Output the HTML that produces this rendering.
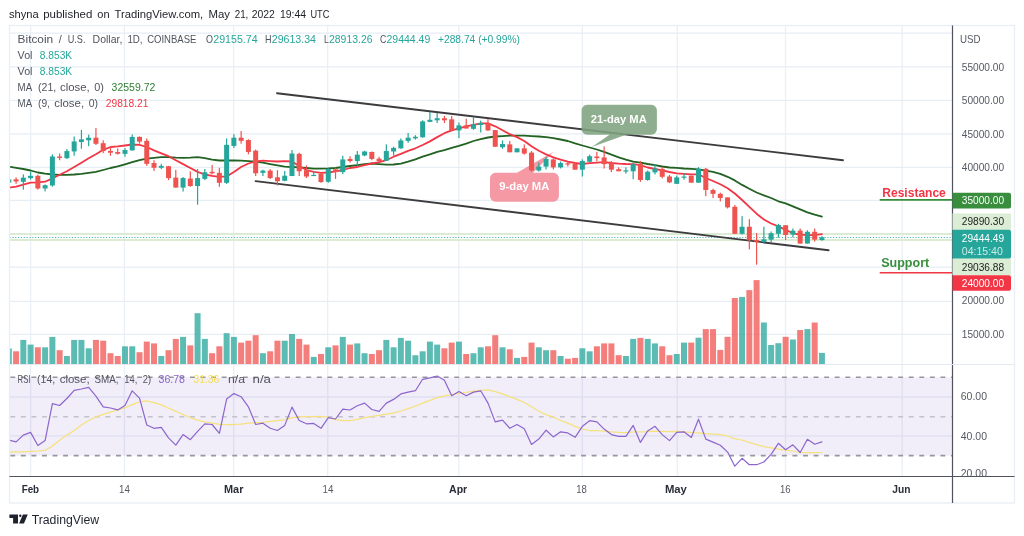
<!DOCTYPE html>
<html><head><meta charset="utf-8"><title>BTCUSD chart</title>
<style>html,body{margin:0;padding:0;background:#fff}svg{display:block}</style></head>
<body>
<svg width="1024" height="536" viewBox="0 0 1024 536" font-family="'Liberation Sans', sans-serif">
<rect width="1024" height="536" fill="#fff"/>
<defs><clipPath id="cm"><rect x="9.5" y="25.5" width="943.0" height="339.0"/></clipPath><clipPath id="cr"><rect x="9.5" y="364.5" width="943.0" height="112.0"/></clipPath></defs>
<line x1="30.6" y1="25.5" x2="30.6" y2="476.5" stroke="#eaf0f6" stroke-width="1.3"/>
<line x1="124.4" y1="25.5" x2="124.4" y2="476.5" stroke="#eaf0f6" stroke-width="1.3"/>
<line x1="233.7" y1="25.5" x2="233.7" y2="476.5" stroke="#eaf0f6" stroke-width="1.3"/>
<line x1="327.7" y1="25.5" x2="327.7" y2="476.5" stroke="#eaf0f6" stroke-width="1.3"/>
<line x1="458.8" y1="25.5" x2="458.8" y2="476.5" stroke="#eaf0f6" stroke-width="1.3"/>
<line x1="582.3" y1="25.5" x2="582.3" y2="476.5" stroke="#eaf0f6" stroke-width="1.3"/>
<line x1="677.3" y1="25.5" x2="677.3" y2="476.5" stroke="#eaf0f6" stroke-width="1.3"/>
<line x1="785.5" y1="25.5" x2="785.5" y2="476.5" stroke="#eaf0f6" stroke-width="1.3"/>
<line x1="902.2" y1="25.5" x2="902.2" y2="476.5" stroke="#eaf0f6" stroke-width="1.3"/>
<line x1="9.5" y1="33.2" x2="952.5" y2="33.2" stroke="#e6eef5" stroke-width="1.3"/>
<line x1="9.5" y1="66.8" x2="952.5" y2="66.8" stroke="#e6eef5" stroke-width="1.3"/>
<line x1="9.5" y1="100.3" x2="952.5" y2="100.3" stroke="#e6eef5" stroke-width="1.3"/>
<line x1="9.5" y1="133.8" x2="952.5" y2="133.8" stroke="#e6eef5" stroke-width="1.3"/>
<line x1="9.5" y1="167.3" x2="952.5" y2="167.3" stroke="#e6eef5" stroke-width="1.3"/>
<line x1="9.5" y1="200.4" x2="952.5" y2="200.4" stroke="#e6eef5" stroke-width="1.3"/>
<line x1="9.5" y1="233.9" x2="952.5" y2="233.9" stroke="#e6eef5" stroke-width="1.3"/>
<line x1="9.5" y1="267.2" x2="952.5" y2="267.2" stroke="#e6eef5" stroke-width="1.3"/>
<line x1="9.5" y1="301.3" x2="952.5" y2="301.3" stroke="#e6eef5" stroke-width="1.3"/>
<line x1="9.5" y1="334.3" x2="952.5" y2="334.3" stroke="#e6eef5" stroke-width="1.3"/>
<line x1="9.5" y1="397" x2="952.5" y2="397" stroke="#ebf1f7" stroke-width="1.3"/>
<line x1="9.5" y1="435.8" x2="952.5" y2="435.8" stroke="#ebf1f7" stroke-width="1.3"/>
<rect x="9.5" y="377.3" width="943.0" height="78.3" fill="#7e57c2" fill-opacity="0.105"/>
<g clip-path="url(#cm)">
<rect x="5.82" y="348.50" width="6" height="15.70" fill="#26a69a" fill-opacity="0.75"/>
<rect x="13.08" y="351.30" width="6" height="12.90" fill="#ef5350" fill-opacity="0.75"/>
<rect x="20.34" y="339.90" width="6" height="24.30" fill="#26a69a" fill-opacity="0.75"/>
<rect x="27.60" y="344.60" width="6" height="19.60" fill="#26a69a" fill-opacity="0.75"/>
<rect x="34.86" y="347.30" width="6" height="16.90" fill="#ef5350" fill-opacity="0.75"/>
<rect x="42.12" y="347.30" width="6" height="16.90" fill="#26a69a" fill-opacity="0.75"/>
<rect x="49.38" y="336.90" width="6" height="27.30" fill="#26a69a" fill-opacity="0.75"/>
<rect x="56.64" y="350.20" width="6" height="14.00" fill="#ef5350" fill-opacity="0.75"/>
<rect x="63.90" y="356.00" width="6" height="8.20" fill="#26a69a" fill-opacity="0.75"/>
<rect x="71.16" y="339.90" width="6" height="24.30" fill="#26a69a" fill-opacity="0.75"/>
<rect x="78.42" y="339.90" width="6" height="24.30" fill="#26a69a" fill-opacity="0.75"/>
<rect x="85.68" y="348.30" width="6" height="15.90" fill="#26a69a" fill-opacity="0.75"/>
<rect x="92.94" y="339.90" width="6" height="24.30" fill="#ef5350" fill-opacity="0.75"/>
<rect x="100.20" y="340.70" width="6" height="23.50" fill="#ef5350" fill-opacity="0.75"/>
<rect x="107.46" y="353.20" width="6" height="11.00" fill="#ef5350" fill-opacity="0.75"/>
<rect x="114.72" y="356.00" width="6" height="8.20" fill="#ef5350" fill-opacity="0.75"/>
<rect x="121.98" y="346.30" width="6" height="17.90" fill="#26a69a" fill-opacity="0.75"/>
<rect x="129.24" y="346.30" width="6" height="17.90" fill="#26a69a" fill-opacity="0.75"/>
<rect x="136.50" y="352.20" width="6" height="12.00" fill="#ef5350" fill-opacity="0.75"/>
<rect x="143.76" y="341.60" width="6" height="22.60" fill="#ef5350" fill-opacity="0.75"/>
<rect x="151.02" y="343.40" width="6" height="20.80" fill="#ef5350" fill-opacity="0.75"/>
<rect x="158.28" y="356.00" width="6" height="8.20" fill="#26a69a" fill-opacity="0.75"/>
<rect x="165.54" y="350.20" width="6" height="14.00" fill="#ef5350" fill-opacity="0.75"/>
<rect x="172.80" y="338.90" width="6" height="25.30" fill="#ef5350" fill-opacity="0.75"/>
<rect x="180.06" y="336.90" width="6" height="27.30" fill="#26a69a" fill-opacity="0.75"/>
<rect x="187.32" y="345.40" width="6" height="18.80" fill="#ef5350" fill-opacity="0.75"/>
<rect x="194.58" y="313.20" width="6" height="51.00" fill="#26a69a" fill-opacity="0.75"/>
<rect x="201.84" y="338.90" width="6" height="25.30" fill="#26a69a" fill-opacity="0.75"/>
<rect x="209.10" y="353.20" width="6" height="11.00" fill="#ef5350" fill-opacity="0.75"/>
<rect x="216.36" y="346.30" width="6" height="17.90" fill="#ef5350" fill-opacity="0.75"/>
<rect x="223.62" y="333.20" width="6" height="31.00" fill="#26a69a" fill-opacity="0.75"/>
<rect x="230.88" y="336.90" width="6" height="27.30" fill="#26a69a" fill-opacity="0.75"/>
<rect x="238.14" y="342.60" width="6" height="21.60" fill="#ef5350" fill-opacity="0.75"/>
<rect x="245.40" y="340.70" width="6" height="23.50" fill="#ef5350" fill-opacity="0.75"/>
<rect x="252.66" y="335.20" width="6" height="29.00" fill="#ef5350" fill-opacity="0.75"/>
<rect x="259.92" y="353.20" width="6" height="11.00" fill="#26a69a" fill-opacity="0.75"/>
<rect x="267.18" y="351.30" width="6" height="12.90" fill="#ef5350" fill-opacity="0.75"/>
<rect x="274.44" y="340.70" width="6" height="23.50" fill="#ef5350" fill-opacity="0.75"/>
<rect x="281.70" y="340.70" width="6" height="23.50" fill="#26a69a" fill-opacity="0.75"/>
<rect x="288.96" y="334.00" width="6" height="30.20" fill="#26a69a" fill-opacity="0.75"/>
<rect x="296.22" y="338.90" width="6" height="25.30" fill="#ef5350" fill-opacity="0.75"/>
<rect x="303.48" y="344.60" width="6" height="19.60" fill="#ef5350" fill-opacity="0.75"/>
<rect x="310.74" y="356.90" width="6" height="7.30" fill="#26a69a" fill-opacity="0.75"/>
<rect x="318.00" y="354.00" width="6" height="10.20" fill="#ef5350" fill-opacity="0.75"/>
<rect x="325.26" y="347.30" width="6" height="16.90" fill="#26a69a" fill-opacity="0.75"/>
<rect x="332.52" y="345.40" width="6" height="18.80" fill="#ef5350" fill-opacity="0.75"/>
<rect x="339.78" y="336.90" width="6" height="27.30" fill="#26a69a" fill-opacity="0.75"/>
<rect x="347.04" y="344.60" width="6" height="19.60" fill="#ef5350" fill-opacity="0.75"/>
<rect x="354.30" y="343.40" width="6" height="20.80" fill="#26a69a" fill-opacity="0.75"/>
<rect x="361.56" y="353.20" width="6" height="11.00" fill="#26a69a" fill-opacity="0.75"/>
<rect x="368.82" y="354.00" width="6" height="10.20" fill="#ef5350" fill-opacity="0.75"/>
<rect x="376.08" y="350.20" width="6" height="14.00" fill="#ef5350" fill-opacity="0.75"/>
<rect x="383.34" y="339.90" width="6" height="24.30" fill="#26a69a" fill-opacity="0.75"/>
<rect x="390.60" y="347.30" width="6" height="16.90" fill="#26a69a" fill-opacity="0.75"/>
<rect x="397.86" y="337.90" width="6" height="26.30" fill="#26a69a" fill-opacity="0.75"/>
<rect x="405.12" y="340.70" width="6" height="23.50" fill="#26a69a" fill-opacity="0.75"/>
<rect x="412.38" y="355.20" width="6" height="9.00" fill="#26a69a" fill-opacity="0.75"/>
<rect x="419.64" y="351.30" width="6" height="12.90" fill="#26a69a" fill-opacity="0.75"/>
<rect x="426.90" y="341.60" width="6" height="22.60" fill="#26a69a" fill-opacity="0.75"/>
<rect x="434.16" y="344.60" width="6" height="19.60" fill="#26a69a" fill-opacity="0.75"/>
<rect x="441.42" y="348.30" width="6" height="15.90" fill="#ef5350" fill-opacity="0.75"/>
<rect x="448.68" y="342.60" width="6" height="21.60" fill="#ef5350" fill-opacity="0.75"/>
<rect x="455.94" y="341.60" width="6" height="22.60" fill="#26a69a" fill-opacity="0.75"/>
<rect x="463.20" y="354.00" width="6" height="10.20" fill="#ef5350" fill-opacity="0.75"/>
<rect x="470.46" y="353.20" width="6" height="11.00" fill="#26a69a" fill-opacity="0.75"/>
<rect x="477.72" y="347.30" width="6" height="16.90" fill="#26a69a" fill-opacity="0.75"/>
<rect x="484.98" y="346.30" width="6" height="17.90" fill="#ef5350" fill-opacity="0.75"/>
<rect x="492.24" y="335.20" width="6" height="29.00" fill="#ef5350" fill-opacity="0.75"/>
<rect x="499.50" y="347.30" width="6" height="16.90" fill="#26a69a" fill-opacity="0.75"/>
<rect x="506.76" y="349.30" width="6" height="14.90" fill="#ef5350" fill-opacity="0.75"/>
<rect x="514.02" y="357.90" width="6" height="6.30" fill="#26a69a" fill-opacity="0.75"/>
<rect x="521.28" y="356.90" width="6" height="7.30" fill="#ef5350" fill-opacity="0.75"/>
<rect x="528.54" y="342.60" width="6" height="21.60" fill="#ef5350" fill-opacity="0.75"/>
<rect x="535.80" y="347.30" width="6" height="16.90" fill="#26a69a" fill-opacity="0.75"/>
<rect x="543.06" y="350.20" width="6" height="14.00" fill="#26a69a" fill-opacity="0.75"/>
<rect x="550.32" y="350.20" width="6" height="14.00" fill="#ef5350" fill-opacity="0.75"/>
<rect x="557.58" y="356.00" width="6" height="8.20" fill="#26a69a" fill-opacity="0.75"/>
<rect x="564.84" y="358.70" width="6" height="5.50" fill="#ef5350" fill-opacity="0.75"/>
<rect x="572.10" y="357.90" width="6" height="6.30" fill="#ef5350" fill-opacity="0.75"/>
<rect x="579.36" y="348.30" width="6" height="15.90" fill="#26a69a" fill-opacity="0.75"/>
<rect x="586.62" y="351.30" width="6" height="12.90" fill="#26a69a" fill-opacity="0.75"/>
<rect x="593.88" y="346.30" width="6" height="17.90" fill="#ef5350" fill-opacity="0.75"/>
<rect x="601.14" y="343.40" width="6" height="20.80" fill="#ef5350" fill-opacity="0.75"/>
<rect x="608.40" y="343.40" width="6" height="20.80" fill="#ef5350" fill-opacity="0.75"/>
<rect x="615.66" y="355.20" width="6" height="9.00" fill="#ef5350" fill-opacity="0.75"/>
<rect x="622.92" y="356.00" width="6" height="8.20" fill="#26a69a" fill-opacity="0.75"/>
<rect x="630.18" y="338.90" width="6" height="25.30" fill="#26a69a" fill-opacity="0.75"/>
<rect x="637.44" y="337.90" width="6" height="26.30" fill="#ef5350" fill-opacity="0.75"/>
<rect x="644.70" y="338.90" width="6" height="25.30" fill="#26a69a" fill-opacity="0.75"/>
<rect x="651.96" y="343.40" width="6" height="20.80" fill="#26a69a" fill-opacity="0.75"/>
<rect x="659.22" y="346.30" width="6" height="17.90" fill="#ef5350" fill-opacity="0.75"/>
<rect x="666.48" y="355.20" width="6" height="9.00" fill="#ef5350" fill-opacity="0.75"/>
<rect x="673.74" y="354.00" width="6" height="10.20" fill="#26a69a" fill-opacity="0.75"/>
<rect x="681.00" y="342.60" width="6" height="21.60" fill="#26a69a" fill-opacity="0.75"/>
<rect x="688.26" y="342.60" width="6" height="21.60" fill="#ef5350" fill-opacity="0.75"/>
<rect x="695.52" y="337.70" width="6" height="26.50" fill="#26a69a" fill-opacity="0.75"/>
<rect x="702.78" y="329.10" width="6" height="35.10" fill="#ef5350" fill-opacity="0.75"/>
<rect x="710.04" y="329.10" width="6" height="35.10" fill="#ef5350" fill-opacity="0.75"/>
<rect x="717.30" y="349.90" width="6" height="14.30" fill="#ef5350" fill-opacity="0.75"/>
<rect x="724.56" y="336.80" width="6" height="27.40" fill="#ef5350" fill-opacity="0.75"/>
<rect x="731.82" y="298.00" width="6" height="66.20" fill="#ef5350" fill-opacity="0.75"/>
<rect x="739.08" y="296.90" width="6" height="67.30" fill="#26a69a" fill-opacity="0.75"/>
<rect x="746.34" y="290.10" width="6" height="74.10" fill="#ef5350" fill-opacity="0.75"/>
<rect x="753.60" y="280.10" width="6" height="84.10" fill="#ef5350" fill-opacity="0.75"/>
<rect x="760.86" y="322.50" width="6" height="41.70" fill="#26a69a" fill-opacity="0.75"/>
<rect x="768.12" y="345.00" width="6" height="19.20" fill="#26a69a" fill-opacity="0.75"/>
<rect x="775.38" y="343.20" width="6" height="21.00" fill="#26a69a" fill-opacity="0.75"/>
<rect x="782.64" y="336.80" width="6" height="27.40" fill="#ef5350" fill-opacity="0.75"/>
<rect x="789.90" y="339.50" width="6" height="24.70" fill="#26a69a" fill-opacity="0.75"/>
<rect x="797.16" y="330.00" width="6" height="34.20" fill="#ef5350" fill-opacity="0.75"/>
<rect x="804.42" y="329.10" width="6" height="35.10" fill="#26a69a" fill-opacity="0.75"/>
<rect x="811.68" y="322.50" width="6" height="41.70" fill="#ef5350" fill-opacity="0.75"/>
<rect x="818.94" y="352.90" width="6" height="11.30" fill="#26a69a" fill-opacity="0.75"/>
</g>
<line x1="9.5" y1="234.1" x2="952.5" y2="234.1" stroke="#dcebd4" stroke-width="2"/>
<line x1="9.5" y1="240" x2="952.5" y2="240" stroke="#dcebd4" stroke-width="2"/>
<line x1="9.5" y1="237.5" x2="952.5" y2="237.5" stroke="#26a69a" stroke-opacity="0.85" stroke-width="1.1" stroke-dasharray="1.1 1.74"/>
<line x1="277" y1="93.2" x2="843" y2="160.2" stroke="#3c3c3e" stroke-width="1.9" stroke-linecap="round"/>
<line x1="255.6" y1="181.1" x2="828.6" y2="250.2" stroke="#3c3c3e" stroke-width="1.9" stroke-linecap="round"/>
<path d="M587.1,104.8 H651.4 a5.5,5.5 0 0 1 5.5,5.5 V129.2 a5.5,5.5 0 0 1 -5.5,5.5 H626 L591.8,146.9 L609.5,134.7 H587.1 a5.5,5.5 0 0 1 -5.5,-5.5 V110.3 a5.5,5.5 0 0 1 5.5,-5.5 Z" fill="#80a380" fill-opacity="0.88"/>
<path d="M495.5,172.8 H517 L553.6,151.8 L533,172.8 H553.4 a5.5,5.5 0 0 1 5.5,5.5 V196.2 a5.5,5.5 0 0 1 -5.5,5.5 H495.5 a5.5,5.5 0 0 1 -5.5,-5.5 V178.3 a5.5,5.5 0 0 1 5.5,-5.5 Z" fill="#f48c98" fill-opacity="0.88"/>
<polyline points="8.8,166.6 16.1,167.8 23.3,169.0 30.6,170.5 37.9,172.5 45.1,173.7 52.4,174.5 59.6,174.8 66.9,174.8 74.2,174.5 81.4,173.9 88.7,172.9 95.9,171.9 103.2,170.0 110.5,168.0 117.7,166.4 125.0,164.3 132.2,162.1 139.5,160.2 146.8,158.6 154.0,157.8 161.3,157.2 168.5,157.2 175.8,157.6 183.1,157.8 190.3,157.6 197.6,157.2 204.8,158.2 212.1,159.6 219.4,160.5 226.6,160.5 233.9,160.5 241.1,160.7 248.4,161.1 255.7,161.7 262.9,162.7 270.2,164.1 277.4,165.4 284.7,166.6 292.0,167.0 299.2,167.4 306.5,168.0 313.7,168.6 321.0,168.6 328.3,168.4 335.5,168.0 342.8,167.0 350.0,166.0 357.3,165.1 364.6,164.1 371.8,163.5 379.1,164.1 386.3,164.7 393.6,164.5 400.9,163.6 408.1,161.6 415.4,159.3 422.6,156.7 429.9,154.4 437.2,151.8 444.4,150.2 451.7,147.9 458.9,145.9 466.2,143.6 473.5,141.0 480.7,139.1 488.0,137.5 495.2,136.5 502.5,136.1 509.8,135.7 517.0,135.7 524.3,135.7 531.5,136.1 538.8,136.5 546.1,137.1 553.3,138.1 560.6,139.5 567.8,141.0 575.1,143.4 582.4,145.5 589.6,147.5 596.9,149.5 604.1,151.8 611.4,154.7 618.7,157.3 625.9,159.6 633.2,161.6 640.4,162.6 647.7,164.0 655.0,165.1 662.2,166.5 669.5,167.5 676.7,167.9 684.0,168.5 691.3,168.8 698.5,169.4 705.8,170.6 713.0,171.9 720.3,173.9 727.6,176.8 734.8,180.4 742.1,184.9 749.3,188.8 756.6,192.5 763.9,195.4 771.1,198.0 778.4,201.3 785.6,203.3 792.9,206.4 800.2,209.4 807.4,212.3 814.7,214.6 821.9,216.6" fill="none" stroke="#226222" stroke-width="1.8" stroke-linejoin="round" stroke-linecap="round" clip-path="url(#cm)"/>
<polyline points="8.8,187.6 16.1,186.6 23.3,184.6 30.6,182.7 37.9,182.3 45.1,181.7 52.4,178.4 59.6,174.8 66.9,171.3 74.2,167.0 81.4,162.7 88.7,158.2 95.9,154.3 103.2,149.8 110.5,147.0 117.7,146.4 125.0,145.5 132.2,144.5 139.5,144.9 146.8,147.0 154.0,150.4 161.3,153.3 168.5,156.2 175.8,160.2 183.1,164.1 190.3,168.0 197.6,171.9 204.8,174.5 212.1,175.8 219.4,176.8 226.6,176.4 233.9,171.9 241.1,167.0 248.4,163.5 255.7,161.5 262.9,160.7 270.2,161.1 277.4,161.5 284.7,161.1 292.0,161.5 299.2,166.0 306.5,170.0 313.7,171.9 321.0,172.9 328.3,172.5 335.5,171.3 342.8,170.0 350.0,168.0 357.3,167.0 364.6,165.1 371.8,163.5 379.1,162.1 386.3,160.2 393.6,156.7 400.9,153.8 408.1,150.8 415.4,148.3 422.6,145.0 429.9,141.4 437.2,137.1 444.4,133.2 451.7,130.3 458.9,128.3 466.2,126.3 473.5,124.8 480.7,123.4 488.0,123.4 495.2,126.3 502.5,130.3 509.8,134.2 517.0,137.1 524.3,141.0 531.5,146.3 538.8,150.8 546.1,154.4 553.3,157.3 560.6,159.6 567.8,161.6 575.1,163.0 582.4,164.0 589.6,163.2 596.9,162.6 604.1,162.2 611.4,163.0 618.7,163.6 625.9,164.0 633.2,164.1 640.4,165.1 647.7,167.5 655.0,169.0 662.2,170.4 669.5,172.0 676.7,173.4 684.0,173.9 691.3,174.3 698.5,174.3 705.8,178.0 713.0,181.0 720.3,184.3 727.6,188.2 734.8,193.5 742.1,200.0 749.3,206.8 756.6,213.7 763.9,219.5 771.1,223.5 778.4,226.4 785.6,229.9 792.9,233.3 800.2,234.6 807.4,235.2 814.7,235.2 821.9,234.2" fill="none" stroke="#f23645" stroke-width="1.8" stroke-linejoin="round" stroke-linecap="round" clip-path="url(#cm)"/>
<g clip-path="url(#cm)">
<rect x="8.22" y="179.34" width="1.2" height="3.29" fill="#26a69a"/>
<rect x="6.32" y="179.34" width="5" height="3.29" fill="#26a69a"/>
<rect x="15.48" y="177.34" width="1.2" height="6.46" fill="#ef5350"/>
<rect x="13.58" y="179.34" width="5" height="2.12" fill="#ef5350"/>
<rect x="22.74" y="174.40" width="1.2" height="15.28" fill="#26a69a"/>
<rect x="20.84" y="177.69" width="5" height="4.11" fill="#26a69a"/>
<rect x="30.00" y="172.05" width="1.2" height="7.64" fill="#26a69a"/>
<rect x="28.10" y="175.81" width="5" height="2.35" fill="#26a69a"/>
<rect x="37.26" y="174.64" width="1.2" height="15.04" fill="#ef5350"/>
<rect x="35.36" y="175.81" width="5" height="12.69" fill="#ef5350"/>
<rect x="44.52" y="184.39" width="1.2" height="7.05" fill="#26a69a"/>
<rect x="42.62" y="185.21" width="5" height="3.29" fill="#26a69a"/>
<rect x="51.78" y="154.38" width="1.2" height="32.31" fill="#26a69a"/>
<rect x="49.88" y="156.49" width="5" height="29.02" fill="#26a69a"/>
<rect x="59.04" y="153.55" width="1.2" height="6.70" fill="#ef5350"/>
<rect x="57.14" y="156.49" width="5" height="1.41" fill="#ef5350"/>
<rect x="66.30" y="149.09" width="1.2" height="9.99" fill="#26a69a"/>
<rect x="64.40" y="151.09" width="5" height="7.05" fill="#26a69a"/>
<rect x="73.56" y="136.52" width="1.2" height="19.27" fill="#26a69a"/>
<rect x="71.66" y="141.45" width="5" height="9.99" fill="#26a69a"/>
<rect x="80.82" y="129.94" width="1.2" height="18.80" fill="#26a69a"/>
<rect x="78.92" y="139.34" width="5" height="2.70" fill="#26a69a"/>
<rect x="88.08" y="134.64" width="1.2" height="11.52" fill="#26a69a"/>
<rect x="86.18" y="137.69" width="5" height="2.59" fill="#26a69a"/>
<rect x="95.34" y="127.94" width="1.2" height="17.04" fill="#ef5350"/>
<rect x="93.44" y="137.69" width="5" height="6.11" fill="#ef5350"/>
<rect x="102.60" y="140.28" width="1.2" height="12.93" fill="#ef5350"/>
<rect x="100.70" y="143.21" width="5" height="7.87" fill="#ef5350"/>
<rect x="109.86" y="146.15" width="1.2" height="9.64" fill="#ef5350"/>
<rect x="107.96" y="150.85" width="5" height="1.88" fill="#ef5350"/>
<rect x="117.12" y="148.50" width="1.2" height="6.11" fill="#ef5350"/>
<rect x="115.22" y="152.03" width="5" height="1.76" fill="#ef5350"/>
<rect x="124.38" y="147.98" width="1.2" height="8.72" fill="#26a69a"/>
<rect x="122.48" y="150.04" width="5" height="3.80" fill="#26a69a"/>
<rect x="131.64" y="134.51" width="1.2" height="16.16" fill="#26a69a"/>
<rect x="129.74" y="136.89" width="5" height="13.47" fill="#26a69a"/>
<rect x="138.90" y="136.41" width="1.2" height="7.29" fill="#ef5350"/>
<rect x="137.00" y="136.89" width="5" height="4.75" fill="#ef5350"/>
<rect x="146.16" y="138.47" width="1.2" height="27.42" fill="#ef5350"/>
<rect x="144.26" y="140.85" width="5" height="22.98" fill="#ef5350"/>
<rect x="153.42" y="160.18" width="1.2" height="10.78" fill="#ef5350"/>
<rect x="151.52" y="163.03" width="5" height="4.75" fill="#ef5350"/>
<rect x="160.68" y="163.83" width="1.2" height="5.23" fill="#26a69a"/>
<rect x="158.78" y="165.89" width="5" height="1.90" fill="#26a69a"/>
<rect x="167.94" y="165.89" width="1.2" height="14.26" fill="#ef5350"/>
<rect x="166.04" y="166.20" width="5" height="11.89" fill="#ef5350"/>
<rect x="175.20" y="169.85" width="1.2" height="17.75" fill="#ef5350"/>
<rect x="173.30" y="177.61" width="5" height="9.98" fill="#ef5350"/>
<rect x="182.46" y="176.98" width="1.2" height="14.58" fill="#26a69a"/>
<rect x="180.56" y="178.09" width="5" height="9.51" fill="#26a69a"/>
<rect x="189.72" y="171.43" width="1.2" height="15.37" fill="#ef5350"/>
<rect x="187.82" y="178.57" width="5" height="7.45" fill="#ef5350"/>
<rect x="196.98" y="169.06" width="1.2" height="35.66" fill="#26a69a"/>
<rect x="195.08" y="178.09" width="5" height="7.92" fill="#26a69a"/>
<rect x="204.24" y="169.06" width="1.2" height="11.09" fill="#26a69a"/>
<rect x="202.34" y="172.23" width="5" height="6.66" fill="#26a69a"/>
<rect x="211.50" y="164.94" width="1.2" height="9.51" fill="#ef5350"/>
<rect x="209.60" y="171.75" width="5" height="1.58" fill="#ef5350"/>
<rect x="218.76" y="167.79" width="1.2" height="19.02" fill="#ef5350"/>
<rect x="216.86" y="172.86" width="5" height="9.98" fill="#ef5350"/>
<rect x="226.02" y="138.47" width="1.2" height="45.48" fill="#26a69a"/>
<rect x="224.12" y="144.81" width="5" height="38.03" fill="#26a69a"/>
<rect x="233.28" y="134.19" width="1.2" height="13.79" fill="#26a69a"/>
<rect x="231.38" y="137.68" width="5" height="8.24" fill="#26a69a"/>
<rect x="240.54" y="131.02" width="1.2" height="12.68" fill="#ef5350"/>
<rect x="238.64" y="137.68" width="5" height="3.17" fill="#ef5350"/>
<rect x="247.80" y="139.26" width="1.2" height="15.06" fill="#ef5350"/>
<rect x="245.90" y="140.06" width="5" height="11.89" fill="#ef5350"/>
<rect x="255.06" y="149.56" width="1.2" height="26.47" fill="#ef5350"/>
<rect x="253.16" y="150.67" width="5" height="22.66" fill="#ef5350"/>
<rect x="262.32" y="169.69" width="1.2" height="6.34" fill="#26a69a"/>
<rect x="260.42" y="170.64" width="5" height="2.22" fill="#26a69a"/>
<rect x="269.58" y="169.06" width="1.2" height="9.83" fill="#ef5350"/>
<rect x="267.68" y="170.64" width="5" height="7.45" fill="#ef5350"/>
<rect x="276.84" y="170.17" width="1.2" height="15.37" fill="#ef5350"/>
<rect x="274.94" y="177.30" width="5" height="3.96" fill="#ef5350"/>
<rect x="284.10" y="170.96" width="1.2" height="10.30" fill="#26a69a"/>
<rect x="282.20" y="175.71" width="5" height="5.07" fill="#26a69a"/>
<rect x="291.36" y="150.04" width="1.2" height="25.99" fill="#26a69a"/>
<rect x="289.46" y="153.53" width="5" height="22.50" fill="#26a69a"/>
<rect x="298.62" y="152.73" width="1.2" height="23.30" fill="#ef5350"/>
<rect x="296.72" y="153.84" width="5" height="17.43" fill="#ef5350"/>
<rect x="305.88" y="165.41" width="1.2" height="12.68" fill="#ef5350"/>
<rect x="303.98" y="170.17" width="5" height="6.34" fill="#ef5350"/>
<rect x="313.14" y="170.96" width="1.2" height="5.07" fill="#26a69a"/>
<rect x="311.24" y="174.88" width="5" height="1.20" fill="#26a69a"/>
<rect x="320.40" y="172.54" width="1.2" height="10.30" fill="#ef5350"/>
<rect x="318.50" y="173.81" width="5" height="8.24" fill="#ef5350"/>
<rect x="327.66" y="168.11" width="1.2" height="14.74" fill="#26a69a"/>
<rect x="325.76" y="169.06" width="5" height="12.68" fill="#26a69a"/>
<rect x="334.92" y="167.79" width="1.2" height="11.09" fill="#ef5350"/>
<rect x="333.02" y="169.37" width="5" height="2.69" fill="#ef5350"/>
<rect x="342.18" y="155.78" width="1.2" height="18.38" fill="#26a69a"/>
<rect x="340.28" y="159.43" width="5" height="12.68" fill="#26a69a"/>
<rect x="349.44" y="156.26" width="1.2" height="6.34" fill="#ef5350"/>
<rect x="347.54" y="158.95" width="5" height="2.06" fill="#ef5350"/>
<rect x="356.70" y="151.03" width="1.2" height="14.74" fill="#26a69a"/>
<rect x="354.80" y="154.68" width="5" height="6.34" fill="#26a69a"/>
<rect x="363.96" y="150.71" width="1.2" height="5.55" fill="#26a69a"/>
<rect x="362.06" y="151.51" width="5" height="3.96" fill="#26a69a"/>
<rect x="371.22" y="151.51" width="1.2" height="8.72" fill="#ef5350"/>
<rect x="369.32" y="151.98" width="5" height="6.97" fill="#ef5350"/>
<rect x="378.48" y="156.74" width="1.2" height="5.39" fill="#ef5350"/>
<rect x="376.58" y="158.64" width="5" height="2.38" fill="#ef5350"/>
<rect x="385.74" y="144.37" width="1.2" height="16.64" fill="#26a69a"/>
<rect x="383.84" y="151.03" width="5" height="9.67" fill="#26a69a"/>
<rect x="393.00" y="146.75" width="1.2" height="8.72" fill="#26a69a"/>
<rect x="391.10" y="147.86" width="5" height="3.65" fill="#26a69a"/>
<rect x="400.26" y="138.51" width="1.2" height="10.30" fill="#26a69a"/>
<rect x="398.36" y="140.41" width="5" height="7.92" fill="#26a69a"/>
<rect x="407.52" y="132.96" width="1.2" height="9.83" fill="#26a69a"/>
<rect x="405.62" y="137.72" width="5" height="3.17" fill="#26a69a"/>
<rect x="414.78" y="135.18" width="1.2" height="4.44" fill="#26a69a"/>
<rect x="412.88" y="136.77" width="5" height="1.58" fill="#26a69a"/>
<rect x="422.04" y="120.29" width="1.2" height="17.43" fill="#26a69a"/>
<rect x="420.14" y="121.39" width="5" height="15.85" fill="#26a69a"/>
<rect x="429.30" y="111.89" width="1.2" height="10.30" fill="#26a69a"/>
<rect x="427.40" y="119.81" width="5" height="2.06" fill="#26a69a"/>
<rect x="436.56" y="113.00" width="1.2" height="9.98" fill="#26a69a"/>
<rect x="434.66" y="118.23" width="5" height="2.06" fill="#26a69a"/>
<rect x="443.82" y="115.85" width="1.2" height="7.13" fill="#ef5350"/>
<rect x="441.92" y="118.23" width="5" height="2.06" fill="#ef5350"/>
<rect x="451.08" y="115.85" width="1.2" height="15.53" fill="#ef5350"/>
<rect x="449.18" y="119.33" width="5" height="10.78" fill="#ef5350"/>
<rect x="458.34" y="122.50" width="1.2" height="15.53" fill="#26a69a"/>
<rect x="456.44" y="125.36" width="5" height="5.07" fill="#26a69a"/>
<rect x="465.60" y="118.70" width="1.2" height="9.83" fill="#ef5350"/>
<rect x="463.70" y="125.36" width="5" height="3.17" fill="#ef5350"/>
<rect x="472.86" y="116.64" width="1.2" height="13.15" fill="#26a69a"/>
<rect x="470.96" y="124.09" width="5" height="4.75" fill="#26a69a"/>
<rect x="480.12" y="120.60" width="1.2" height="11.89" fill="#26a69a"/>
<rect x="478.22" y="122.98" width="5" height="2.06" fill="#26a69a"/>
<rect x="487.38" y="119.02" width="1.2" height="11.89" fill="#ef5350"/>
<rect x="485.48" y="123.45" width="5" height="6.97" fill="#ef5350"/>
<rect x="494.64" y="130.11" width="1.2" height="16.64" fill="#ef5350"/>
<rect x="492.74" y="130.11" width="5" height="16.64" fill="#ef5350"/>
<rect x="501.90" y="140.41" width="1.2" height="8.40" fill="#26a69a"/>
<rect x="500.00" y="144.06" width="5" height="3.17" fill="#26a69a"/>
<rect x="509.16" y="140.89" width="1.2" height="11.41" fill="#ef5350"/>
<rect x="507.26" y="144.37" width="5" height="7.92" fill="#ef5350"/>
<rect x="516.42" y="148.34" width="1.2" height="3.96" fill="#26a69a"/>
<rect x="514.52" y="148.34" width="5" height="3.96" fill="#26a69a"/>
<rect x="523.68" y="144.37" width="1.2" height="10.30" fill="#ef5350"/>
<rect x="521.78" y="148.34" width="5" height="5.23" fill="#ef5350"/>
<rect x="530.94" y="151.03" width="1.2" height="20.60" fill="#ef5350"/>
<rect x="529.04" y="152.61" width="5" height="17.91" fill="#ef5350"/>
<rect x="538.20" y="162.60" width="1.2" height="9.03" fill="#26a69a"/>
<rect x="536.30" y="166.56" width="5" height="3.96" fill="#26a69a"/>
<rect x="545.46" y="156.74" width="1.2" height="12.68" fill="#26a69a"/>
<rect x="543.56" y="158.95" width="5" height="7.61" fill="#26a69a"/>
<rect x="552.72" y="158.32" width="1.2" height="11.09" fill="#ef5350"/>
<rect x="550.82" y="159.43" width="5" height="7.92" fill="#ef5350"/>
<rect x="559.98" y="161.49" width="1.2" height="6.97" fill="#26a69a"/>
<rect x="558.08" y="163.07" width="5" height="4.28" fill="#26a69a"/>
<rect x="567.24" y="162.23" width="1.2" height="4.28" fill="#ef5350"/>
<rect x="565.34" y="163.29" width="5" height="1.20" fill="#ef5350"/>
<rect x="574.50" y="162.54" width="1.2" height="7.13" fill="#ef5350"/>
<rect x="572.60" y="163.81" width="5" height="5.86" fill="#ef5350"/>
<rect x="581.76" y="159.37" width="1.2" height="17.12" fill="#26a69a"/>
<rect x="579.86" y="160.96" width="5" height="8.72" fill="#26a69a"/>
<rect x="589.02" y="154.62" width="1.2" height="7.92" fill="#26a69a"/>
<rect x="587.12" y="156.20" width="5" height="5.55" fill="#26a69a"/>
<rect x="596.28" y="151.77" width="1.2" height="9.51" fill="#ef5350"/>
<rect x="594.38" y="156.52" width="5" height="1.58" fill="#ef5350"/>
<rect x="603.54" y="146.38" width="1.2" height="22.19" fill="#ef5350"/>
<rect x="601.64" y="157.47" width="5" height="6.66" fill="#ef5350"/>
<rect x="610.80" y="160.96" width="1.2" height="11.09" fill="#ef5350"/>
<rect x="608.90" y="162.86" width="5" height="6.81" fill="#ef5350"/>
<rect x="618.06" y="167.30" width="1.2" height="3.96" fill="#ef5350"/>
<rect x="616.16" y="169.20" width="5" height="2.06" fill="#ef5350"/>
<rect x="625.32" y="167.30" width="1.2" height="6.34" fill="#26a69a"/>
<rect x="623.42" y="170.34" width="5" height="1.20" fill="#26a69a"/>
<rect x="632.58" y="162.86" width="1.2" height="16.32" fill="#26a69a"/>
<rect x="630.68" y="164.13" width="5" height="7.13" fill="#26a69a"/>
<rect x="639.84" y="160.96" width="1.2" height="20.92" fill="#ef5350"/>
<rect x="637.94" y="164.13" width="5" height="15.85" fill="#ef5350"/>
<rect x="647.10" y="170.47" width="1.2" height="10.30" fill="#26a69a"/>
<rect x="645.20" y="171.74" width="5" height="8.24" fill="#26a69a"/>
<rect x="654.36" y="164.13" width="1.2" height="10.30" fill="#26a69a"/>
<rect x="652.46" y="168.57" width="5" height="3.80" fill="#26a69a"/>
<rect x="661.62" y="166.98" width="1.2" height="11.41" fill="#ef5350"/>
<rect x="659.72" y="168.88" width="5" height="7.92" fill="#ef5350"/>
<rect x="668.88" y="174.90" width="1.2" height="8.24" fill="#ef5350"/>
<rect x="666.98" y="176.49" width="5" height="5.86" fill="#ef5350"/>
<rect x="676.14" y="175.63" width="1.2" height="8.23" fill="#26a69a"/>
<rect x="674.24" y="177.39" width="5" height="6.46" fill="#26a69a"/>
<rect x="683.40" y="173.04" width="1.2" height="6.70" fill="#26a69a"/>
<rect x="681.50" y="176.55" width="5" height="1.20" fill="#26a69a"/>
<rect x="690.66" y="175.63" width="1.2" height="7.05" fill="#ef5350"/>
<rect x="688.76" y="175.63" width="5" height="7.05" fill="#ef5350"/>
<rect x="697.92" y="167.17" width="1.2" height="15.51" fill="#26a69a"/>
<rect x="696.02" y="168.81" width="5" height="13.87" fill="#26a69a"/>
<rect x="705.18" y="167.99" width="1.2" height="28.20" fill="#ef5350"/>
<rect x="703.28" y="168.81" width="5" height="21.15" fill="#ef5350"/>
<rect x="712.44" y="188.79" width="1.2" height="9.17" fill="#ef5350"/>
<rect x="710.54" y="189.96" width="5" height="3.88" fill="#ef5350"/>
<rect x="719.70" y="192.67" width="1.2" height="8.81" fill="#ef5350"/>
<rect x="717.80" y="193.84" width="5" height="4.11" fill="#ef5350"/>
<rect x="726.96" y="197.37" width="1.2" height="11.16" fill="#ef5350"/>
<rect x="725.06" y="197.37" width="5" height="9.99" fill="#ef5350"/>
<rect x="734.22" y="205.00" width="1.2" height="28.79" fill="#ef5350"/>
<rect x="732.32" y="206.76" width="5" height="27.03" fill="#ef5350"/>
<rect x="741.48" y="216.16" width="1.2" height="18.45" fill="#26a69a"/>
<rect x="739.58" y="226.74" width="5" height="7.05" fill="#26a69a"/>
<rect x="748.74" y="219.10" width="1.2" height="30.32" fill="#ef5350"/>
<rect x="746.84" y="226.74" width="5" height="13.51" fill="#ef5350"/>
<rect x="756.00" y="233.20" width="1.2" height="31.49" fill="#ef5350"/>
<rect x="754.10" y="240.02" width="5" height="1.65" fill="#ef5350"/>
<rect x="763.26" y="226.74" width="1.2" height="16.10" fill="#26a69a"/>
<rect x="761.36" y="239.31" width="5" height="2.70" fill="#26a69a"/>
<rect x="770.52" y="231.44" width="1.2" height="10.58" fill="#26a69a"/>
<rect x="768.62" y="233.20" width="5" height="6.46" fill="#26a69a"/>
<rect x="777.78" y="223.80" width="1.2" height="13.87" fill="#26a69a"/>
<rect x="775.88" y="224.98" width="5" height="8.81" fill="#26a69a"/>
<rect x="785.04" y="225.21" width="1.2" height="14.81" fill="#ef5350"/>
<rect x="783.14" y="225.21" width="5" height="9.75" fill="#ef5350"/>
<rect x="792.30" y="228.50" width="1.2" height="8.81" fill="#26a69a"/>
<rect x="790.40" y="230.62" width="5" height="4.00" fill="#26a69a"/>
<rect x="799.56" y="228.50" width="1.2" height="15.04" fill="#ef5350"/>
<rect x="797.66" y="230.62" width="5" height="12.93" fill="#ef5350"/>
<rect x="806.82" y="230.26" width="1.2" height="13.28" fill="#26a69a"/>
<rect x="804.92" y="231.79" width="5" height="11.75" fill="#26a69a"/>
<rect x="814.08" y="228.50" width="1.2" height="13.16" fill="#ef5350"/>
<rect x="812.18" y="231.79" width="5" height="7.87" fill="#ef5350"/>
<rect x="821.34" y="236.14" width="1.2" height="4.70" fill="#26a69a"/>
<rect x="819.44" y="237.31" width="5" height="2.70" fill="#26a69a"/>
</g>
<text x="618.8" y="122.9" font-size="11.5" font-weight="bold" fill="#fff" text-anchor="middle" textLength="56" lengthAdjust="spacingAndGlyphs">21-day MA</text>
<text x="524.3" y="190.3" font-size="11.5" font-weight="bold" fill="#fff" text-anchor="middle" textLength="50" lengthAdjust="spacingAndGlyphs">9-day MA</text>
<line x1="879.7" y1="199.9" x2="952.5" y2="199.9" stroke="#388e3c" stroke-width="1.6"/>
<line x1="879.7" y1="272.8" x2="952.5" y2="272.8" stroke="#f23645" stroke-width="1.6"/>
<text x="882.3" y="197" font-size="12.5" font-weight="bold" fill="#f23645" textLength="63.5" lengthAdjust="spacingAndGlyphs">Resistance</text>
<text x="881.2" y="266.6" font-size="12.5" font-weight="bold" fill="#388e3c" textLength="48" lengthAdjust="spacingAndGlyphs">Support</text>
<line x1="9.5" y1="377.3" x2="952.5" y2="377.3" stroke="#96969f" stroke-width="1.6" stroke-dasharray="4.9 5.67" stroke-dashoffset="-0.8"/>
<line x1="9.5" y1="416.8" x2="952.5" y2="416.8" stroke="#c2c2cc" stroke-width="1.4" stroke-dasharray="4.9 5.67" stroke-dashoffset="-0.8"/>
<line x1="9.5" y1="455.6" x2="952.5" y2="455.6" stroke="#96969f" stroke-width="1.6" stroke-dasharray="4.9 5.67" stroke-dashoffset="-0.8"/>
<polyline points="8.8,452.1 16.1,451.9 23.3,451.8 30.6,451.4 37.9,451.0 45.1,450.3 52.4,446.1 59.6,440.2 66.9,435.1 74.2,430.5 81.4,425.0 88.7,420.5 95.9,416.8 103.2,414.4 110.5,412.2 117.7,410.0 125.0,407.7 132.2,404.6 139.5,401.8 146.8,400.9 154.0,402.7 161.3,404.9 168.5,408.2 175.8,411.3 183.1,414.6 190.3,417.7 197.6,420.1 204.8,421.8 212.1,423.2 219.4,424.3 226.6,424.5 233.9,424.5 241.1,424.1 248.4,423.2 255.7,422.7 262.9,422.3 270.2,421.4 277.4,420.7 284.7,419.9 292.0,417.7 299.2,416.8 306.5,416.6 313.7,416.6 321.0,416.4 328.3,417.4 335.5,419.6 342.8,420.7 350.0,420.7 357.3,419.4 364.6,417.7 371.8,416.4 379.1,415.4 386.3,414.1 393.6,413.2 400.9,411.0 408.1,408.6 415.4,406.2 422.6,403.1 429.9,400.4 437.2,397.6 444.4,395.8 451.7,394.5 458.9,393.4 466.2,392.5 473.5,391.2 480.7,390.3 488.0,389.9 495.2,391.6 502.5,393.9 509.8,396.7 517.0,399.4 524.3,402.5 531.5,406.8 538.8,411.3 546.1,414.6 553.3,417.2 560.6,420.5 567.8,423.2 575.1,426.3 582.4,429.1 589.6,430.5 596.9,430.5 604.1,431.1 611.4,431.8 618.7,432.4 625.9,432.7 633.2,432.0 640.4,431.8 647.7,431.6 655.0,431.1 662.2,431.4 669.5,431.6 676.7,431.4 684.0,431.8 691.3,432.5 698.5,432.9 705.8,433.6 713.0,434.2 720.3,434.7 727.6,436.0 734.8,438.8 742.1,440.0 749.3,442.4 756.6,444.6 763.9,446.6 771.1,447.9 778.4,449.2 785.6,450.1 792.9,451.0 800.2,452.5 807.4,452.7 814.7,452.7 821.9,452.5" fill="none" stroke="#f5e27e" stroke-width="1.25" stroke-linejoin="round" stroke-linecap="round" clip-path="url(#cr)"/>
<polyline points="8.8,440.0 16.1,441.9 23.3,435.1 30.6,432.4 37.9,445.5 45.1,440.6 52.4,403.6 59.6,405.5 66.9,398.5 74.2,390.3 81.4,389.0 88.7,387.4 95.9,396.1 103.2,406.8 110.5,408.0 117.7,409.9 125.0,405.5 132.2,390.8 139.5,398.2 146.8,425.0 154.0,428.3 161.3,427.4 168.5,437.8 175.8,445.2 183.1,434.6 190.3,439.7 197.6,431.4 204.8,423.8 212.1,424.5 219.4,433.3 226.6,399.1 233.9,393.6 241.1,396.7 248.4,406.8 255.7,424.5 262.9,423.2 270.2,428.2 277.4,430.5 284.7,425.4 292.0,407.1 299.2,420.5 306.5,423.8 313.7,423.4 321.0,428.3 328.3,417.7 335.5,419.0 342.8,409.1 350.0,410.0 357.3,405.7 364.6,403.1 371.8,409.5 379.1,411.3 386.3,403.1 393.6,399.4 400.9,393.9 408.1,392.1 415.4,390.7 422.6,379.3 429.9,377.9 437.2,376.0 444.4,380.2 451.7,395.8 458.9,391.6 466.2,395.8 473.5,392.1 480.7,390.8 488.0,403.1 495.2,421.9 502.5,420.1 509.8,428.3 517.0,424.5 524.3,428.7 531.5,444.4 538.8,439.1 546.1,430.2 553.3,436.9 560.6,431.8 567.8,432.9 575.1,437.3 582.4,426.3 589.6,420.7 596.9,421.8 604.1,429.1 611.4,434.6 618.7,436.4 625.9,436.4 633.2,425.4 640.4,442.4 647.7,430.9 655.0,426.3 662.2,434.6 669.5,440.6 676.7,432.4 684.0,431.8 691.3,437.5 698.5,419.2 705.8,439.1 713.0,442.1 720.3,445.2 727.6,452.1 734.8,466.2 742.1,458.3 749.3,464.7 756.6,464.7 763.9,462.0 771.1,454.3 778.4,443.3 785.6,449.7 792.9,444.8 800.2,452.5 807.4,439.3 814.7,444.3 821.9,441.9" fill="none" stroke="#8c66cd" stroke-width="1.2" stroke-linejoin="round" stroke-linecap="round" clip-path="url(#cr)"/>
<rect x="9.5" y="25.5" width="1005.0" height="477.5" fill="none" stroke="#e9edf4" stroke-width="1.3"/>
<line x1="952.5" y1="25.5" x2="952.5" y2="503" stroke="#50535e" stroke-width="1.2"/>
<line x1="9.5" y1="476.5" x2="1014.5" y2="476.5" stroke="#50535e" stroke-width="1.2"/>
<line x1="9.5" y1="364.5" x2="1014.5" y2="364.5" stroke="#e4e8f0" stroke-width="1.2"/>
<text x="960" y="42.8" font-size="11.5" fill="#555963" textLength="20.5" lengthAdjust="spacingAndGlyphs">USD</text>
<text x="961.8" y="70.6" font-size="11.5" fill="#555963" textLength="42.3" lengthAdjust="spacingAndGlyphs">55000.00</text>
<text x="961.8" y="104.1" font-size="11.5" fill="#555963" textLength="42.3" lengthAdjust="spacingAndGlyphs">50000.00</text>
<text x="961.8" y="137.6" font-size="11.5" fill="#555963" textLength="42.3" lengthAdjust="spacingAndGlyphs">45000.00</text>
<text x="961.8" y="171.1" font-size="11.5" fill="#555963" textLength="42.3" lengthAdjust="spacingAndGlyphs">40000.00</text>
<text x="961.8" y="304.1" font-size="11.5" fill="#555963" textLength="42.3" lengthAdjust="spacingAndGlyphs">20000.00</text>
<text x="961.8" y="338.1" font-size="11.5" fill="#555963" textLength="42.3" lengthAdjust="spacingAndGlyphs">15000.00</text>
<text x="960.8" y="400.3" font-size="11.5" fill="#555963" textLength="26.2" lengthAdjust="spacingAndGlyphs">60.00</text>
<text x="960.8" y="439.8" font-size="11.5" fill="#555963" textLength="26.2" lengthAdjust="spacingAndGlyphs">40.00</text>
<clipPath id="c20"><rect x="952.5" y="460" width="60" height="16.5"/></clipPath>
<g clip-path="url(#c20)"><text x="960.8" y="477.4" font-size="11.5" fill="#555963" textLength="26.2" lengthAdjust="spacingAndGlyphs">20.00</text></g>
<path d="M952.5,192.7 H1009 a2,2 0 0 1 2,2 V206.4 a2,2 0 0 1 -2,2 H952.5 Z" fill="#388e3c"/>
<text x="961.8" y="204.3" font-size="11.5" fill="#fff" textLength="42.3" lengthAdjust="spacingAndGlyphs">35000.00</text>
<rect x="952.5" y="213.4" width="58.5" height="16.6" fill="#dcedd6"/>
<text x="961.8" y="225.3" font-size="11.5" fill="#1c1c1c" textLength="42.3" lengthAdjust="spacingAndGlyphs">29890.30</text>
<path d="M952.5,229.8 H1009 a2,2 0 0 1 2,2 V256.7 a2,2 0 0 1 -2,2 H952.5 Z" fill="#26a69a"/>
<text x="961.8" y="241.6" font-size="11.5" fill="#fff" textLength="42.3" lengthAdjust="spacingAndGlyphs">29444.49</text>
<text x="961.8" y="254.8" font-size="11.5" fill="#c9ebe7" textLength="41" lengthAdjust="spacingAndGlyphs">04:15:40</text>
<rect x="952.5" y="258.7" width="58.5" height="16.5" fill="#dcedd6"/>
<text x="961.8" y="271.0" font-size="11.5" fill="#1c1c1c" textLength="42.3" lengthAdjust="spacingAndGlyphs">29036.88</text>
<path d="M952.5,275.2 H1009 a2,2 0 0 1 2,2 V288.8 a2,2 0 0 1 -2,2 H952.5 Z" fill="#f23645"/>
<text x="961.8" y="287.0" font-size="11.5" fill="#fff" textLength="42.3" lengthAdjust="spacingAndGlyphs">24000.00</text>
<text x="30.4" y="492.7" font-size="11.5" font-weight="bold" fill="#2a2e39" text-anchor="middle" textLength="17.5" lengthAdjust="spacingAndGlyphs">Feb</text>
<text x="124.4" y="492.7" font-size="11.5" fill="#555963" text-anchor="middle" textLength="10.8" lengthAdjust="spacingAndGlyphs">14</text>
<text x="233.7" y="492.7" font-size="11.5" font-weight="bold" fill="#2a2e39" text-anchor="middle" textLength="19.4" lengthAdjust="spacingAndGlyphs">Mar</text>
<text x="327.9" y="492.7" font-size="11.5" fill="#555963" text-anchor="middle" textLength="10.8" lengthAdjust="spacingAndGlyphs">14</text>
<text x="458.1" y="492.7" font-size="11.5" font-weight="bold" fill="#2a2e39" text-anchor="middle" textLength="18.2" lengthAdjust="spacingAndGlyphs">Apr</text>
<text x="581.6" y="492.7" font-size="11.5" fill="#555963" text-anchor="middle" textLength="10.6" lengthAdjust="spacingAndGlyphs">18</text>
<text x="675.9" y="492.7" font-size="11.5" font-weight="bold" fill="#2a2e39" text-anchor="middle" textLength="22" lengthAdjust="spacingAndGlyphs">May</text>
<text x="785.2" y="492.7" font-size="11.5" fill="#555963" text-anchor="middle" textLength="10.6" lengthAdjust="spacingAndGlyphs">16</text>
<text x="901.3" y="492.7" font-size="11.5" font-weight="bold" fill="#2a2e39" text-anchor="middle" textLength="18.2" lengthAdjust="spacingAndGlyphs">Jun</text>
<text x="17.6" y="43.3" font-size="11" fill="#50535e" textLength="35.6" lengthAdjust="spacingAndGlyphs">Bitcoin</text>
<text x="58.8" y="43.3" font-size="11" fill="#50535e" textLength="3.0" lengthAdjust="spacingAndGlyphs">/</text>
<text x="67.7" y="43.3" font-size="11" fill="#50535e" textLength="17.8" lengthAdjust="spacingAndGlyphs">U.S.</text>
<text x="92.6" y="43.3" font-size="11" fill="#50535e" textLength="29.7" lengthAdjust="spacingAndGlyphs">Dollar,</text>
<text x="127.4" y="43.3" font-size="11" fill="#50535e" textLength="15.2" lengthAdjust="spacingAndGlyphs">1D,</text>
<text x="147.2" y="43.3" font-size="11" fill="#50535e" textLength="49.2" lengthAdjust="spacingAndGlyphs">COINBASE</text>
<text x="206" y="43.3" font-size="11" fill="#50535e" textLength="7.0" lengthAdjust="spacingAndGlyphs">O</text>
<text x="213.3" y="43.3" font-size="11" fill="#26a69a" textLength="44.3" lengthAdjust="spacingAndGlyphs">29155.74</text>
<text x="265" y="43.3" font-size="11" fill="#50535e" textLength="6.5" lengthAdjust="spacingAndGlyphs">H</text>
<text x="271.8" y="43.3" font-size="11" fill="#26a69a" textLength="44.2" lengthAdjust="spacingAndGlyphs">29613.34</text>
<text x="324" y="43.3" font-size="11" fill="#50535e" textLength="4.8" lengthAdjust="spacingAndGlyphs">L</text>
<text x="329" y="43.3" font-size="11" fill="#26a69a" textLength="43.5" lengthAdjust="spacingAndGlyphs">28913.26</text>
<text x="380" y="43.3" font-size="11" fill="#50535e" textLength="6.3" lengthAdjust="spacingAndGlyphs">C</text>
<text x="386.5" y="43.3" font-size="11" fill="#26a69a" textLength="43.8" lengthAdjust="spacingAndGlyphs">29444.49</text>
<text x="438" y="43.3" font-size="11" fill="#26a69a" textLength="82.0" lengthAdjust="spacingAndGlyphs">+288.74 (+0.99%)</text>
<text x="17.6" y="59.3" font-size="11" fill="#50535e" textLength="14.9" lengthAdjust="spacingAndGlyphs">Vol</text>
<text x="39.7" y="59.3" font-size="11" fill="#26a69a" textLength="32.5" lengthAdjust="spacingAndGlyphs">8.853K</text>
<text x="17.6" y="75.3" font-size="11" fill="#50535e" textLength="14.9" lengthAdjust="spacingAndGlyphs">Vol</text>
<text x="39.7" y="75.3" font-size="11" fill="#26a69a" textLength="32.5" lengthAdjust="spacingAndGlyphs">8.853K</text>
<text x="17.6" y="91.3" font-size="11" fill="#50535e" textLength="14.5" lengthAdjust="spacingAndGlyphs">MA</text>
<text x="38" y="91.3" font-size="11" fill="#50535e" textLength="18.2" lengthAdjust="spacingAndGlyphs">(21,</text>
<text x="60" y="91.3" font-size="11" fill="#50535e" textLength="29.8" lengthAdjust="spacingAndGlyphs">close,</text>
<text x="94.3" y="91.3" font-size="11" fill="#50535e" textLength="9.7" lengthAdjust="spacingAndGlyphs">0)</text>
<text x="111.6" y="91.3" font-size="11" fill="#2e7d32" textLength="43.7" lengthAdjust="spacingAndGlyphs">32559.72</text>
<text x="17.6" y="107.3" font-size="11" fill="#50535e" textLength="14.5" lengthAdjust="spacingAndGlyphs">MA</text>
<text x="38" y="107.3" font-size="11" fill="#50535e" textLength="11.9" lengthAdjust="spacingAndGlyphs">(9,</text>
<text x="54.2" y="107.3" font-size="11" fill="#50535e" textLength="30.0" lengthAdjust="spacingAndGlyphs">close,</text>
<text x="88.8" y="107.3" font-size="11" fill="#50535e" textLength="9.3" lengthAdjust="spacingAndGlyphs">0)</text>
<text x="105.8" y="107.3" font-size="11" fill="#f23645" textLength="42.6" lengthAdjust="spacingAndGlyphs">29818.21</text>
<text x="17.6" y="383.3" font-size="11" fill="#50535e" textLength="12.9" lengthAdjust="spacingAndGlyphs">RSI</text>
<text x="37" y="383.3" font-size="11" fill="#50535e" textLength="18.2" lengthAdjust="spacingAndGlyphs">(14,</text>
<text x="59.7" y="383.3" font-size="11" fill="#50535e" textLength="30.0" lengthAdjust="spacingAndGlyphs">close,</text>
<text x="94.5" y="383.3" font-size="11" fill="#50535e" textLength="24.0" lengthAdjust="spacingAndGlyphs">SMA,</text>
<text x="124.3" y="383.3" font-size="11" fill="#50535e" textLength="13.0" lengthAdjust="spacingAndGlyphs">14,</text>
<text x="142.7" y="383.3" font-size="11" fill="#50535e" textLength="8.3" lengthAdjust="spacingAndGlyphs">2)</text>
<text x="158.5" y="383.3" font-size="11" fill="#8a63cc" textLength="26.5" lengthAdjust="spacingAndGlyphs">36.78</text>
<text x="193.4" y="383.3" font-size="11" fill="#f4df55" textLength="25.9" lengthAdjust="spacingAndGlyphs">31.36</text>
<text x="228" y="383.3" font-size="11" fill="#50535e" textLength="17.0" lengthAdjust="spacingAndGlyphs">n/a</text>
<text x="252.5" y="383.3" font-size="11" fill="#50535e" textLength="18.5" lengthAdjust="spacingAndGlyphs">n/a</text>
<text x="9" y="17.6" font-size="11.3" fill="#1e2027" textLength="29.8" lengthAdjust="spacingAndGlyphs">shyna</text>
<text x="43.2" y="17.6" font-size="11.3" fill="#1e2027" textLength="49.1" lengthAdjust="spacingAndGlyphs">published</text>
<text x="97.3" y="17.6" font-size="11.3" fill="#1e2027" textLength="12.3" lengthAdjust="spacingAndGlyphs">on</text>
<text x="114.5" y="17.6" font-size="11.3" fill="#1e2027" textLength="88.7" lengthAdjust="spacingAndGlyphs">TradingView.com,</text>
<text x="208.5" y="17.6" font-size="11.3" fill="#1e2027" textLength="21.5" lengthAdjust="spacingAndGlyphs">May</text>
<text x="234.7" y="17.6" font-size="11.3" fill="#1e2027" textLength="13.6" lengthAdjust="spacingAndGlyphs">21,</text>
<text x="251.7" y="17.6" font-size="11.3" fill="#1e2027" textLength="23.2" lengthAdjust="spacingAndGlyphs">2022</text>
<text x="279.9" y="17.6" font-size="11.3" fill="#1e2027" textLength="26.2" lengthAdjust="spacingAndGlyphs">19:44</text>
<text x="310.4" y="17.6" font-size="11.3" fill="#1e2027" textLength="18.9" lengthAdjust="spacingAndGlyphs">UTC</text>
<path d="M9.4,514.5 H18 V523.5 H13.1 V518 H9.4 Z" fill="#1e222d"/>
<circle cx="20.3" cy="515.8" r="1.2" fill="#1e222d"/>
<path d="M22.9,514.5 H27.8 L23.9,523.5 H19.1 Z" fill="#1e222d"/>
<text x="31.7" y="523.6" font-size="12" fill="#1e222d" textLength="67.4" lengthAdjust="spacingAndGlyphs">TradingView</text>
</svg>
</body></html>
